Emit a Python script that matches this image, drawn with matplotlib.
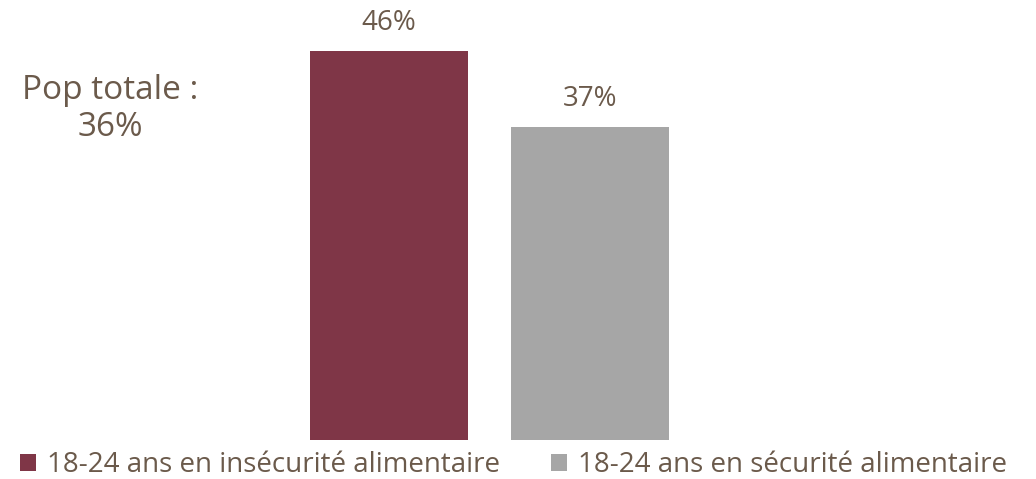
import matplotlib.pyplot as plt

# données
categories = ['18-24 ans en insécurité alimentaire', '18-24 ans en sécurité alimentaire']
valeurs = [46, 37]
couleurs = ['#7f3647', '#a6a6a6']
pop_totale = 36

texte = '#6b5a4b'

fig = plt.figure(figsize=(10.36, 4.79), dpi=100)
ax = fig.add_axes([0, 39 / 479, 1, 440 / 479])

x = [0, 1]
barres = ax.bar(x, valeurs, width=0.786, color=couleurs, label=categories)
for xi, v in zip(x, valeurs):
    ax.text(xi, v + 3.3, f'{v}%', ha='center', va='center', fontsize=20,
            color=texte, family='Open Sans')

ax.set_xlim(-1.935, 3.219)
ax.set_ylim(0, 52)
ax.axis('off')

fig.text(110 / 1036, 1 - 109 / 479, f'Pop totale :\n{pop_totale}%', ha='center', va='center',
         fontsize=24, color=texte, family='Open Sans', linespacing=1.15)

leg = fig.legend(handles=barres, labels=categories, loc='center left', ncol=2,
                 bbox_to_anchor=(20 / 1036, 14 / 479), frameon=False,
                 borderpad=0, borderaxespad=0,
                 handlelength=0.58, handleheight=0.58, handletextpad=0.38,
                 columnspacing=1.85, prop={'family': 'Open Sans', 'size': 20})
for t in leg.get_texts():
    t.set_color(texte)

fig.savefig('out.png', dpi=100)
